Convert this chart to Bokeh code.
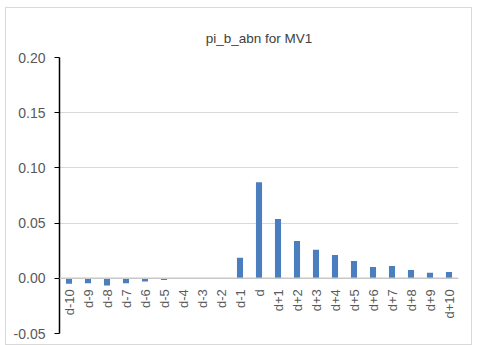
import math
from bokeh.plotting import figure
from bokeh.models import FactorRange, Range1d, FixedTicker, NumeralTickFormatter, Span, ColumnDataSource
from bokeh.core.properties import value
from bokeh.embed import file_html
from bokeh.resources import INLINE

categories = ["d-10", "d-9", "d-8", "d-7", "d-6", "d-5", "d-4", "d-3", "d-2", "d-1", "d",
              "d+1", "d+2", "d+3", "d+4", "d+5", "d+6", "d+7", "d+8", "d+9", "d+10"]
values = [-0.0050, -0.0045, -0.0066, -0.0045, -0.0030, -0.0015, -0.0007, 0.0, 0.0, 0.0186, 0.0871,
          0.0538, 0.0337, 0.0259, 0.0211, 0.0157, 0.0103, 0.0112, 0.0076, 0.0051, 0.0058]
y_ticks = [-0.05, 0.0, 0.05, 0.10, 0.15, 0.20]
title_text = "pi_b_abn for MV1"

FONT = "Liberation Sans"

src = ColumnDataSource(dict(cat=categories, val=values, zero=[0.0] * len(categories)))

p = figure(width=467, height=338,
           x_range=FactorRange(*categories, range_padding=0),
           y_range=Range1d(-0.05, 0.20),
           output_backend="svg", toolbar_location=None, title=title_text,
           min_border_left=53, min_border_right=15, min_border_top=49, min_border_bottom=13)
p.margin = (7, 0, 0, 5)
p.styles = {"border": "1px solid #d9d9d9", "box-sizing": "border-box"}
p.outline_line_color = None
p.background_fill_color = "white"
p.border_fill_color = "white"

p.title.align = "center"
p.title.offset = -15
p.title.standoff = 23
p.title.text_font = FONT
p.title.text_font_size = "13.5px"
p.title.text_font_style = "normal"
p.title.text_color = "#404040"

p.xaxis.visible = False
p.xgrid.grid_line_color = None

yax = p.yaxis[0]
yax.ticker = FixedTicker(ticks=y_ticks)
yax.formatter = NumeralTickFormatter(format="0.00")
yax.axis_line_color = "black"
yax.axis_line_width = 1.5
yax.major_tick_line_color = "black"
yax.major_tick_out = 5
yax.major_tick_in = 0
yax.minor_tick_line_color = None
yax.major_label_text_font = FONT
yax.major_label_text_font_size = "14px"
yax.major_label_text_color = "#595959"
yax.major_label_standoff = 9

p.ygrid.ticker = FixedTicker(ticks=y_ticks)
p.ygrid.grid_line_color = "#d9d9d9"

p.vbar(x="cat", top="val", bottom=0, width=0.32, source=src,
       fill_color="#4a7ebf", line_color=None)

p.add_layout(Span(location=0, dimension="width", line_color="#c8c8c8", line_width=1.5))

p.text(x="cat", y="zero", text="cat", source=src, angle=math.pi / 2,
       text_align="right", text_baseline="middle", y_offset=11,
       text_font=value(FONT), text_font_size="13px", text_color="#595959")

open("out.html", "w").write(file_html(p, INLINE))
